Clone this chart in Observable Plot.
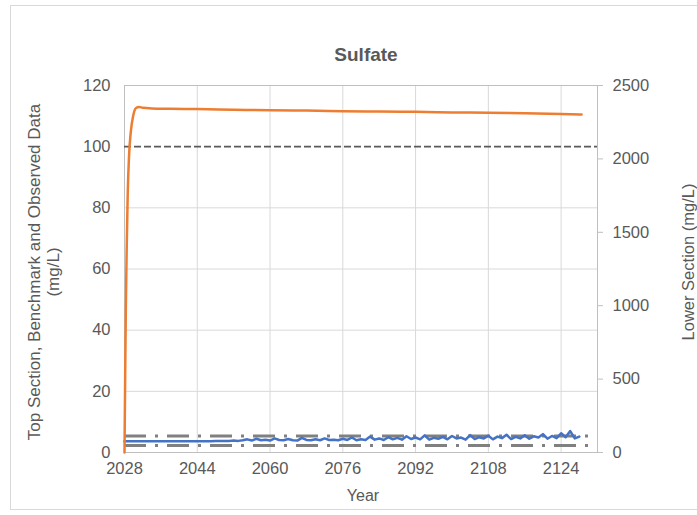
<!DOCTYPE html>
<html>
<head>
<meta charset="utf-8">
<script src="https://cdn.jsdelivr.net/npm/d3@7"></script>
<script src="https://cdn.jsdelivr.net/npm/@observablehq/plot@0.6"></script>
<style>
  html, body { margin: 0; padding: 0; background: #fff; }
  #wrap { position: relative; width: 697px; height: 515px; }
  #border { position: absolute; left: 10px; top: 5px; width: 690px; height: 505px; border: 1px solid #d9d9d9; box-sizing: border-box; }
  #chart { position: absolute; left: 0; top: 0; }
</style>
</head>
<body>
<div id="wrap"><div id="border"></div><div id="chart"></div></div>
<script>
// ---- Data ----
const title = "Sulfate";
const xLabel = "Year";
const yLabelLeft = ["Top Section, Benchmark and Observed Data", "(mg/L)"];
const yLabelRight = "Lower Section (mg/L)";

const xTicks = [2028, 2044, 2060, 2076, 2092, 2108, 2124];
const yTicksLeft = [0, 20, 40, 60, 80, 100, 120];
const yTicksRight = [0, 500, 1000, 1500, 2000, 2500];
const rightMax = 2500;
const leftMax = 120;

// Orange model line (mg/L, left axis units)
const orangeYears = [2028, 2028.15, 2028.3, 2028.5, 2028.7, 2029, 2029.4, 2029.9, 2030.5, 2031.2, 2032, 2034, 2038, 2044, 2052, 2060, 2068, 2076, 2084, 2092, 2100, 2108, 2116, 2124, 2128.5];
const orangeVals  = [0, 25, 48, 68, 84, 97, 105, 110, 112.6, 113, 112.7, 112.5, 112.4, 112.3, 112.1, 111.9, 111.8, 111.6, 111.5, 111.4, 111.2, 111.1, 110.9, 110.7, 110.5];

// Blue line, annual 2028..2128
const blueStartYear = 2028;
const blueVals = [
  3.7,3.7,3.7,3.7,3.7,3.7,3.7,3.7,3.7,3.7,3.7,3.7,3.7,3.7,3.7,3.7,3.7,3.7,3.7,3.7,3.8,3.8,3.8,3.8,3.9,3.8,4.0,
  4.3,3.9,4.5,4.0,4.2,3.9,4.6,4.1,4.0,4.4,
  4.0,3.9,4.8,4.1,4.0,4.3,4.0,4.6,4.1,4.2,
  4.0,4.5,4.1,4.9,4.0,4.3,4.1,5.2,4.2,4.6,
  4.1,5.0,4.3,4.8,4.2,5.3,4.4,4.9,4.3,5.6,
  4.2,4.8,4.5,5.1,4.3,5.4,4.6,4.9,4.2,5.7,
  4.4,5.0,4.6,5.5,4.3,5.2,4.7,5.8,4.4,5.1,
  4.6,5.6,4.5,5.3,4.9,6.0,4.5,5.4,4.7,6.3,
  5.0,7.0,4.6,5.2
];

// Benchmarks
const benchmarkMain = [100];
const benchmarkLow = [5.4, 2.3];

// ---- Build ----
const orange = orangeYears.map((x, i) => ({x, y: orangeVals[i]}));
const blue = blueVals.map((y, i) => ({x: blueStartYear + i, y}));
const rightTickPos = yTicksRight.map(v => v / rightMax * leftMax);

const font = "Liberation Sans, Arial, sans-serif";
const txt = "#595959";

const chart = Plot.plot({
  width: 697,
  height: 515,
  marginLeft: 124,
  marginRight: 100,
  marginTop: 85,
  marginBottom: 63,
  style: {fontFamily: font, fontSize: "16px", color: txt, background: "transparent"},
  x: {domain: [2028, 2132], axis: null},
  y: {domain: [0, 120], axis: null},
  marks: [
    Plot.gridX(xTicks, {stroke: "#d9d9d9", strokeOpacity: 1}),
    Plot.gridY(yTicksLeft.filter(d => d > 0 && d < 100), {stroke: "#d9d9d9", strokeOpacity: 1}),
    Plot.frame({stroke: "#bfbfbf"}),
    Plot.ruleY(benchmarkMain, {stroke: "#595959", strokeWidth: 1.8, strokeDasharray: "7,3"}),
    Plot.ruleY(benchmarkLow, {stroke: "#808080", strokeWidth: 3, strokeDasharray: "22,9,3,9"}),
    Plot.line(blue, {x: "x", y: "y", stroke: "#4472C4", strokeWidth: 2.5}),
    Plot.line(orange, {x: "x", y: "y", stroke: "#ED7D31", strokeWidth: 2.5, curve: "monotone-x"}),
    Plot.axisX(xTicks, {tickSize: 0, tickPadding: 10, tickFormat: d => String(d), fill: txt, fontSize: 16.5, label: null}),
    Plot.axisY(yTicksLeft, {anchor: "left", tickSize: 0, tickPadding: 14, fill: txt, fontSize: 16.5, label: null}),
    Plot.axisY(rightTickPos, {anchor: "right", tickSize: 5, tickPadding: 10, stroke: "#bfbfbf", fill: txt, fontSize: 16.5, label: null,
      tickFormat: d => String(Math.round(d / leftMax * rightMax))}),
    Plot.text([title], {frameAnchor: "top", dy: -38, dx: 5, fontWeight: "bold", fontSize: 19, fill: txt}),
    Plot.text([xLabel], {frameAnchor: "bottom", dy: 48, dx: 2, fontSize: 16, fill: txt}),
    Plot.text([yLabelLeft[0]], {frameAnchor: "left", textAnchor: "middle", dx: -90, dy: 3, rotate: -90, fontSize: 17, fill: txt}),
    Plot.text([yLabelLeft[1]], {frameAnchor: "left", textAnchor: "middle", dx: -71, dy: 3, rotate: -90, fontSize: 17, fill: txt}),
    Plot.text([yLabelRight], {frameAnchor: "right", textAnchor: "middle", dx: 91, dy: -7, rotate: -90, fontSize: 16.5, fill: txt})
  ]
});
document.getElementById("chart").appendChild(chart);
</script>
</body>
</html>
